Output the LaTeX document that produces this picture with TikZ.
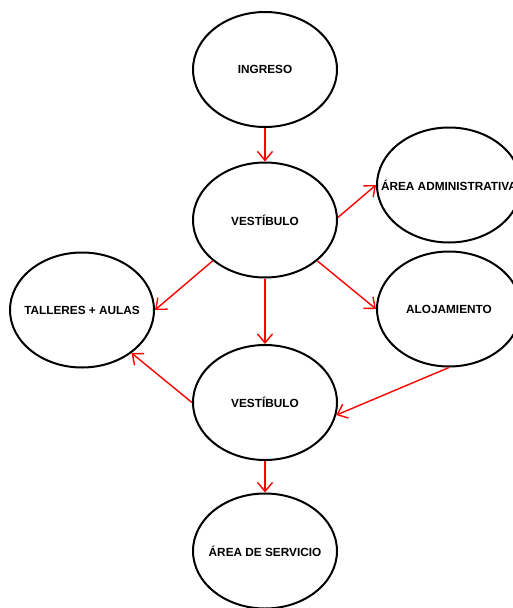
\documentclass[tikz,border=0pt]{standalone}
\usepackage{fontspec}
\setmainfont{Liberation Sans}
\usetikzlibrary{shapes.geometric,arrows.meta}
\begin{document}
\begin{tikzpicture}[x=1pt,y=-1pt,
  area/.style={ellipse, draw=black, line width=2pt, minimum width=144pt,
    minimum height=115pt, inner sep=0pt, fill=white,
    label={[font=\fontsize{11.8}{13}\selectfont\bfseries]center:#1}},
  flow/.style={draw=red, line width=1.4pt,
    -{Straight Barb[length=9pt,width=15pt,line width=1.4pt]}}]
\useasboundingbox (0,0) rectangle (513,608);
\node[area=INGRESO] (ing)  at (265,69.5) {};
\node[area=VESTÍBULO] (v1)   at (265,220)  {};
\node[area=ÁREA ADMINISTRATIVA] (adm)  at (449,185)  {};
\node[area=ALOJAMIENTO] (alo)  at (449,309)  {};
\node[area=TALLERES + AULAS] (tal)  at (82,310)   {};
\node[area=VESTÍBULO] (v2)   at (265,402.5){};
\node[area=ÁREA DE SERVICIO] (serv) at (265,551)  {};
% circulation between spaces
\draw[flow] (ing.south) -- (v1.north);
\draw[flow] (v1.2) -- (adm.west);
\draw[flow] (v1.-38) -- (alo.west);
\draw[flow] (v1.-142) -- (tal.east);
\draw[flow] (v1.south) -- (v2.north);
\draw[flow] (v2.west) -- (tal.-41);
\draw[flow] (alo.south) -- (v2.-10);
\draw[flow] (v2.south) -- (serv.north);
\end{tikzpicture}
\end{document}
